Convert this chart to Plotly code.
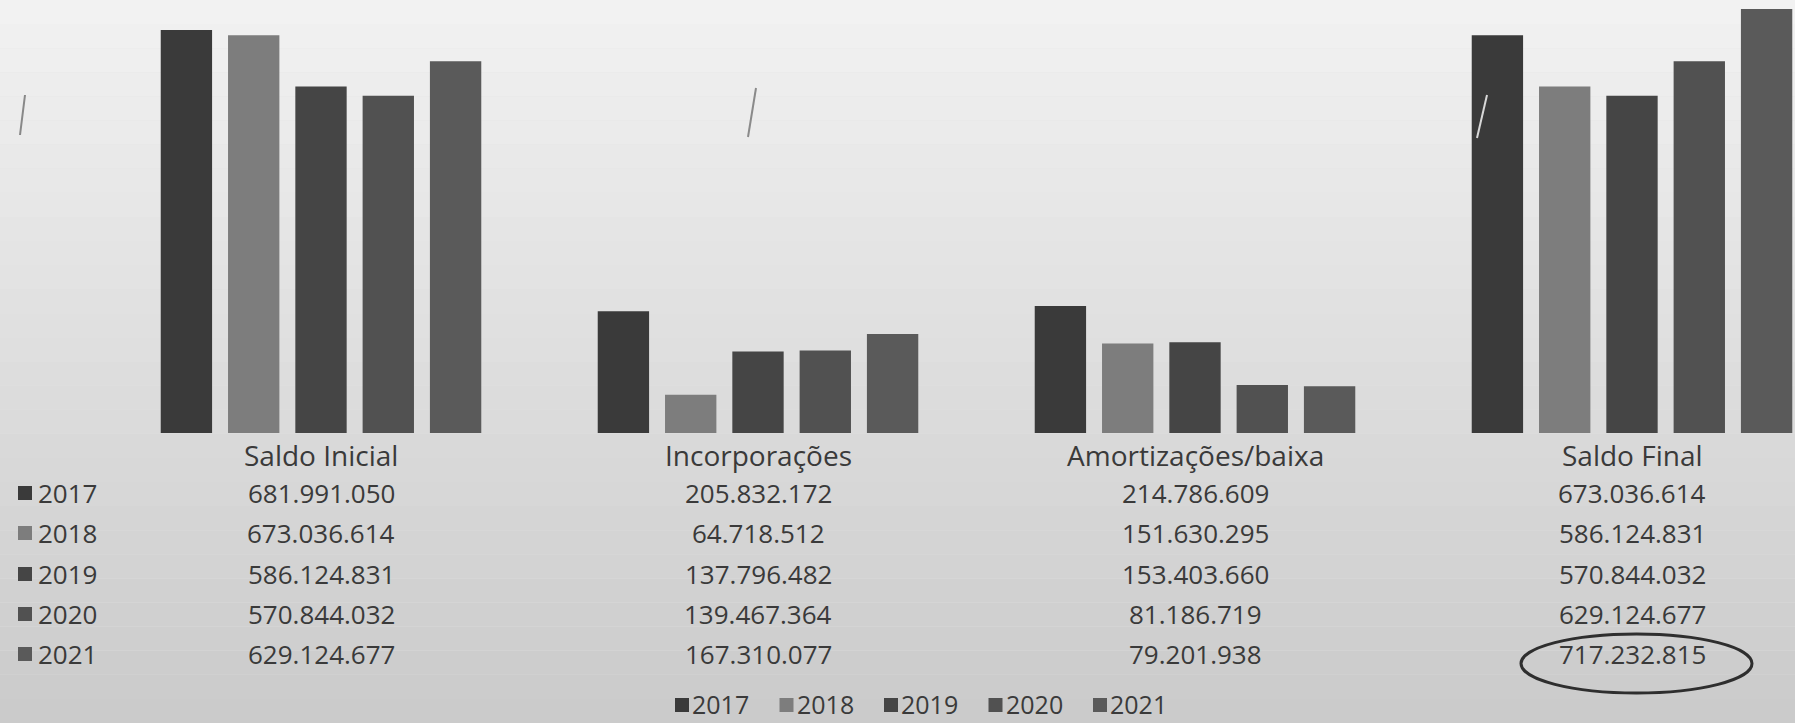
import plotly.graph_objects as go

# ---------------- data ----------------
categories = ["Saldo Inicial", "Incorporações", "Amortizações/baixa", "Saldo Final"]
years = ["2017", "2018", "2019", "2020", "2021"]
v2017 = [681991050, 205832172, 214786609, 673036614]
v2018 = [673036614, 64718512, 151630295, 586124831]
v2019 = [586124831, 137796482, 153403660, 570844032]
v2020 = [570844032, 139467364, 81186719, 629124677]
v2021 = [629124677, 167310077, 79201938, 717232815]
series = [v2017, v2018, v2019, v2020, v2021]
colors = ["#3a3a3a", "#7d7d7d", "#454545", "#515151", "#5a5a5a"]

W, H = 1795, 723
TXT = "#3a3a3a"
FONT = "Open Sans"


def fmt(v):
    return f"{v:,}".replace(",", ".")


def py(pix):  # pixel y -> paper y
    return 1 - pix / H


fig = go.Figure()
for yr, vals, col in zip(years, series, colors):
    fig.add_trace(go.Bar(name=yr, x=categories, y=vals, marker=dict(color=col, line=dict(width=0)),
                         hoverinfo="skip", showlegend=False))

# background gradient (scan look)
shapes = []
n = 30
top_c, bot_c = 0xF2, 0xCB
for i in range(n):
    c = int(top_c + (bot_c - top_c) * (i / (n - 1)))
    shapes.append(dict(type="rect", xref="paper", yref="paper", x0=0, x1=1,
                       y0=1 - (i + 1) / n, y1=1 - i / n, fillcolor=f"rgb({c},{c},{c})",
                       line=dict(width=0), layer="below"))

annotations = []
row_y = [493, 533, 574, 614, 654]
label_y = 455
# category labels of data table
for cat in categories:
    annotations.append(dict(x=cat, y=py(label_y), xref="x", yref="paper", text=cat, showarrow=False,
                            xanchor="center", yanchor="middle", borderpad=0,
                            font=dict(family=FONT, size=28, color=TXT)))
# data table values
for vals, ry in zip(series, row_y):
    for cat, v in zip(categories, vals):
        annotations.append(dict(x=cat, y=py(ry), xref="x", yref="paper", text=fmt(v), showarrow=False,
                                xanchor="center", yanchor="middle", borderpad=0,
                                font=dict(family=FONT, size=26, color=TXT)))
# table legend keys
for yr, col, ry in zip(years, colors, row_y):
    shapes.append(dict(type="rect", xref="paper", yref="paper", x0=18 / W, x1=32 / W,
                       y0=py(ry + 7), y1=py(ry - 7), fillcolor=col, line=dict(width=0)))
    annotations.append(dict(x=37 / W, y=py(ry), xref="paper", yref="paper", text=yr, showarrow=False,
                            xanchor="left", yanchor="middle", borderpad=0,
                            font=dict(family=FONT, size=26, color=TXT)))

# bottom legend (drawn manually to match the key/text spacing)
leg_x0, leg_pitch, leg_y = 675, 104.5, 704
for k, (yr, col) in enumerate(zip(years, colors)):
    sx = leg_x0 + k * leg_pitch
    shapes.append(dict(type="rect", xref="paper", yref="paper", x0=sx / W, x1=(sx + 14) / W,
                       y0=py(leg_y + 8), y1=py(leg_y - 6), fillcolor=col, line=dict(width=0)))
    annotations.append(dict(x=(sx + 16) / W, y=py(leg_y), xref="paper", yref="paper", text=yr,
                            showarrow=False, xanchor="left", yanchor="middle", borderpad=0,
                            font=dict(family=FONT, size=25, color=TXT)))

# hand-drawn ellipse around last value
shapes.append(dict(type="circle", xref="paper", yref="paper", x0=1521 / W, x1=1752 / W,
                   y0=py(693), y1=py(634), line=dict(color="#2e2e2e", width=3)))
# faint pen marks
for (x0, y0, x1, y1, c) in [(25, 95, 20, 135, "#888888"), (756, 88, 748, 137, "#8a8a8a"),
                            (1487, 95, 1477, 138, "#d8d8d8")]:
    shapes.append(dict(type="line", xref="paper", yref="paper", x0=x0 / W, x1=x1 / W,
                       y0=py(y0), y1=py(y1), line=dict(color=c, width=2)))

base_px = 433
px_per = 0.591e-6
ymax = base_px / px_per
left_px = 102.5
cat_w = 437.0

fig.update_layout(
    width=W, height=H,
    margin=dict(l=0, r=0, t=0, b=0),
    paper_bgcolor="#e2e2e2", plot_bgcolor="rgba(0,0,0,0)",
    barmode="group", bargap=0.23, bargroupgap=0.237,
    xaxis=dict(domain=[left_px / W, 1], range=[-0.5, -0.5 + (W - left_px) / cat_w], visible=False,
               fixedrange=True),
    yaxis=dict(domain=[py(base_px), 1], range=[0, ymax], visible=False, fixedrange=True),
    showlegend=False,
    shapes=shapes, annotations=annotations,
    font=dict(family=FONT, color=TXT),
)

fig.write_html("out.html", config={"displayModeBar": False},
               post_script="document.body.style.margin='0';document.body.style.overflow='hidden';")
